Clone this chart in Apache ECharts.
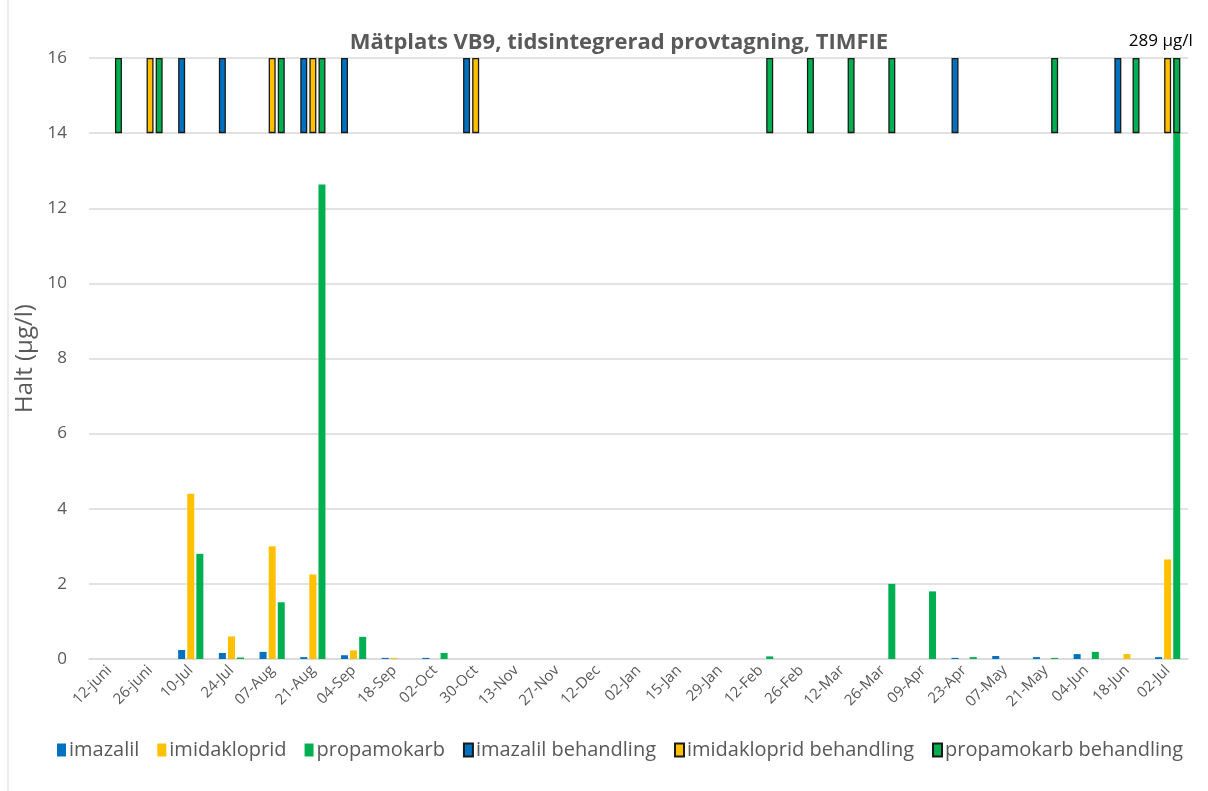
<!DOCTYPE html>
<html>
<head>
    <meta charset="utf-8">
    <script src="https://cdn.jsdelivr.net/npm/echarts@6/dist/echarts.min.js"></script>
    <style>
        html, body { margin: 0; padding: 0; background: #fff; }
    </style>
</head>
<body>
<div id="main" style="width: 1208px;height:791px;"></div>
<script type="text/javascript">
    // provtagningsdatum (kategorier)
    var dates = ['12-juni', '26-juni', '10-Jul', '24-Jul', '07-Aug', '21-Aug', '04-Sep', '18-Sep',
        '02-Oct', '30-Oct', '13-Nov', '27-Nov', '12-Dec', '02-Jan', '15-Jan', '29-Jan', '12-Feb',
        '26-Feb', '12-Mar', '26-Mar', '09-Apr', '23-Apr', '07-May', '21-May', '04-Jun', '18-Jun', '02-Jul'];

    // halter (µg/l)
    var imazalil = [null, null, 0.24, 0.16, 0.19, 0.05, 0.10, 0.03, 0.03, null, null, null, null, null,
        null, null, null, null, null, null, null, 0.03, 0.08, 0.05, 0.13, null, 0.05];
    var imidakloprid = [null, null, 4.4, 0.6, 3.0, 2.25, 0.23, 0.03, null, null, null, null, null, null,
        null, null, null, null, null, null, null, null, null, null, null, 0.13, 2.65];
    var propamokarb = [null, null, 2.8, 0.04, 1.51, 12.63, 0.59, null, 0.16, null, null, null, null, null,
        null, null, 0.07, null, null, 2.0, 1.8, 0.05, null, 0.03, 0.19, null, 289];

    // behandlingar (1 = behandling den perioden)
    var imazalilBeh = [0, 0, 1, 1, 0, 1, 1, 0, 0, 1, 0, 0, 0, 0, 0, 0, 0, 0, 0, 0, 0, 1, 0, 0, 0, 1, 0];
    var imidaklopridBeh = [0, 1, 0, 0, 1, 1, 0, 0, 0, 1, 0, 0, 0, 0, 0, 0, 0, 0, 0, 0, 0, 0, 0, 0, 0, 0, 1];
    var propamokarbBeh = [1, 1, 0, 0, 1, 1, 0, 0, 0, 0, 0, 0, 0, 0, 0, 0, 1, 1, 1, 1, 0, 0, 0, 1, 0, 1, 1];

    var yTicks = [0, 2, 4, 6, 8, 10, 12, 14, 16];
    var behLow = 14, behHigh = 16;

    var blue = '#0070C0', yellow = '#FFC000', green = '#00B050';
    var txt = '#595959';
    var font = 'Open Sans';

    var myChart = echarts.init(document.getElementById('main'));

    function behBase(flags) {
        return flags.map(function (f) { return f ? behLow : null; });
    }
    function behTop(flags) {
        return flags.map(function (f) { return f ? behHigh - behLow : null; });
    }

    function valueSeries(name, data, color) {
        return {
            name: name, type: 'bar', xAxisIndex: 0, data: data,
            barWidth: 7, barGap: '30%',
            itemStyle: { color: color },
            clip: true
        };
    }
    function behSeries(name, flags, color, stackName) {
        return [{
            name: name + '_base', type: 'bar', xAxisIndex: 1, stack: stackName,
            data: behBase(flags), barWidth: 7, barGap: '30%',
            itemStyle: { color: 'rgba(0,0,0,0)' }, silent: true
        }, {
            name: name, type: 'bar', xAxisIndex: 1, stack: stackName,
            data: behTop(flags), barWidth: 7, barGap: '30%',
            itemStyle: { color: color, borderColor: '#1a1a1a', borderWidth: 1.3 }
        }];
    }

    var series = [
        valueSeries('imazalil', imazalil, blue),
        valueSeries('imidakloprid', imidakloprid, yellow),
        valueSeries('propamokarb', propamokarb, green)
    ].concat(
        behSeries('imazalil behandling', imazalilBeh, blue, 'a'),
        behSeries('imidakloprid behandling', imidaklopridBeh, yellow, 'b'),
        behSeries('propamokarb behandling', propamokarbBeh, green, 'c')
    );

    // etikett för det avklippta värdet (289 µg/l ligger utanför skalan)
    series[2].markPoint = {
        symbol: 'rect', symbolSize: 1,
        itemStyle: { color: 'rgba(0,0,0,0)' },
        data: [{ coord: [dates.length - 1, behHigh] }],
        label: {
            show: true, position: 'inside',
            formatter: propamokarb[propamokarb.length - 1] + ' µg/l',
            color: '#000', fontFamily: font, fontSize: 17,
            offset: [-16, -17]
        }
    };

    var option = {
        animation: false,
        textStyle: { fontFamily: font },
        title: {
            text: 'Mätplats VB9, tidsintegrerad provtagning, TIMFIE',
            left: 614, top: 27, textAlign: 'center',
            textStyle: { fontSize: 22, fontWeight: 'bold', color: txt, fontFamily: font }
        },
        graphic: [{
            type: 'rect', shape: { x: 8, y: -2, width: 1210, height: 800 },
            style: { fill: 'none', stroke: '#D9D9D9', lineWidth: 1 }, silent: true
        }],
        legend: {
            top: 735, left: 52,
            itemWidth: 9, itemHeight: 13, itemGap: 18,
            icon: 'rect',
            data: ['imazalil', 'imidakloprid', 'propamokarb', 'imazalil behandling',
                'imidakloprid behandling', 'propamokarb behandling'],
            textStyle: { color: txt, fontSize: 20, fontFamily: font, padding: [0, 0, 0, -2] }
        },
        grid: { left: 89, right: 20, top: 58, bottom: 132, containLabel: false },
        xAxis: [{
            type: 'category', data: dates,
            axisLine: { lineStyle: { color: '#D9D9D9', width: 1.5 } },
            axisTick: { show: false },
            axisLabel: { rotate: 45, interval: 0, color: txt, fontSize: 15, fontFamily: font, margin: 9 }
        }, {
            type: 'category', data: dates, show: false
        }],
        yAxis: {
            type: 'value', min: yTicks[0], max: yTicks[yTicks.length - 1], interval: 2,
            name: 'Halt (µg/l)', nameLocation: 'middle', nameGap: 35, nameRotate: 90,
            nameTextStyle: { color: txt, fontSize: 24, fontFamily: font },
            axisLine: { show: false }, axisTick: { show: false },
            axisLabel: { color: txt, fontSize: 17, fontFamily: font, margin: 22 },
            splitLine: { lineStyle: { color: '#D9D9D9', width: 1.5 } }
        },
        series: series
    };
    myChart.setOption(option);
</script>
</body>
</html>
